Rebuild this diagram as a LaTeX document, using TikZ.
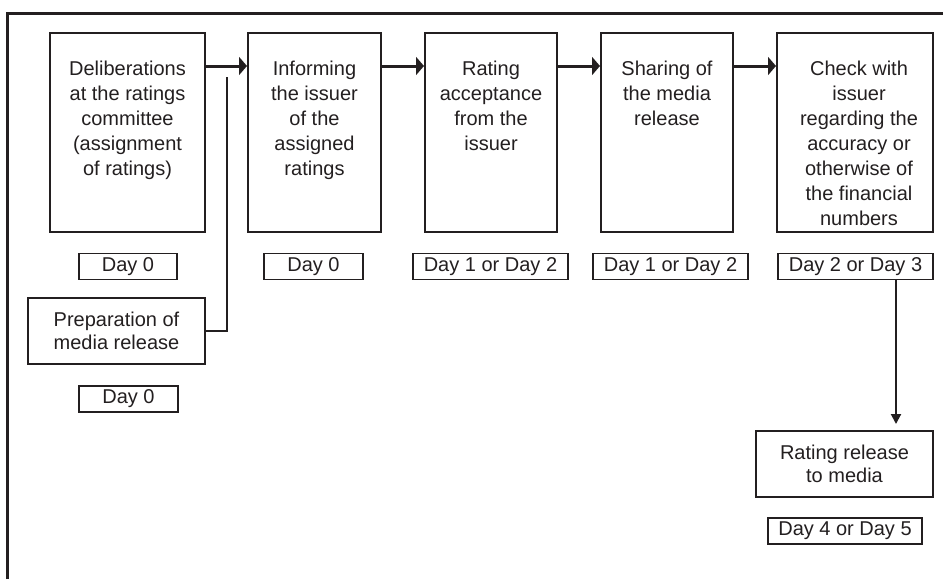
\documentclass[tikz,border=0pt]{standalone}
\usepackage{fontspec}
\setmainfont{Liberation Sans}
\usetikzlibrary{arrows.meta}

\definecolor{ink}{HTML}{231F20}

\begin{document}
\begin{tikzpicture}[x=1pt, y=-1pt,
  every node/.style={font=\fontsize{20}{25}\selectfont, text=ink},
  stepbox/.style={draw=ink, line width=2pt, minimum height=199pt, inner sep=0pt},
  steptext/.style={anchor=north, align=center, inner sep=0pt},
  infobox/.style={draw=ink, line width=2pt, minimum height=66pt, inner sep=0pt, align=center,
    font=\fontsize{20}{23}\selectfont},
  daybox/.style={draw=ink, line width=1.2pt, minimum height=26pt, inner sep=0pt},
  flowarrow/.style={draw=ink, line width=3pt, -{Triangle[length=8pt, width=18pt]}},
  downarrow/.style={draw=ink, line width=2pt, -{Triangle[length=10pt, width=10pt]}}]

\useasboundingbox (0,0) rectangle (943,579);

\draw[ink, line width=3pt] (7,579) -- (7,13) -- (943,13);

\node[stepbox, minimum width=155pt] (s1) at (127.5,132.5) {};
\node[stepbox, minimum width=133pt] (s2) at (314.5,132.5) {};
\node[stepbox, minimum width=132pt] (s3) at (491,132.5) {};
\node[stepbox, minimum width=132pt] (s4) at (667,132.5) {};
\node[stepbox, minimum width=156pt] (s5) at (855,132.5) {};

\node[steptext] (t1) at ([yshift=-29pt]s1.north) {Deliberations\\at the ratings\\committee\\(assignment\\of ratings)};
\node[steptext] (t2) at ([yshift=-29pt]s2.north) {Informing\\the issuer\\of the\\assigned\\ratings};
\node[steptext] (t3) at ([yshift=-29pt]s3.north) {Rating\\acceptance\\from the\\issuer};
\node[steptext] (t4) at ([yshift=-29pt]s4.north) {Sharing of\\the media\\release};
\node[steptext] (t5) at ([xshift=4pt, yshift=-29pt]s5.north) {Check with\\issuer\\regarding the\\accuracy or\\otherwise of\\the financial\\numbers};

\node[daybox, minimum width=98pt] (d1) at (128,266.5) {Day 0};
\node[daybox, minimum width=99pt] (d2) at (313.5,266.5) {Day 0};
\node[daybox, minimum width=155pt] (d3) at (490.5,266.5) {Day 1 or Day 2};
\node[daybox, minimum width=155pt] (d4) at (670.5,266.5) {Day 1 or Day 2};
\node[daybox, minimum width=155pt] (d5) at (855.5,266.5) {Day 2 or Day 3};

\node[infobox, minimum width=177pt] (prep) at (116.5,331) {Preparation of\\media release};
\node[daybox, minimum width=99pt] (d6) at (128.5,399) {Day 0};

\node[infobox, minimum width=177pt] (rel) at (844.5,464) {Rating release\\to media};
\node[daybox, minimum width=154pt] (d7) at (845,531) {Day 4 or Day 5};

\draw[flowarrow] ([yshift=-34pt]s1.north east) -- ([yshift=-34pt]s2.north west);
\draw[flowarrow] ([yshift=-34pt]s2.north east) -- ([yshift=-34pt]s3.north west);
\draw[flowarrow] ([yshift=-34pt]s3.north east) -- ([yshift=-34pt]s4.north west);
\draw[flowarrow] ([yshift=-34pt]s4.north east) -- ([yshift=-34pt]s5.north west);

\coordinate (jtop) at (227,77);
\draw[ink, line width=2pt] (prep.east) -| (jtop);

\draw[downarrow, shorten >=6pt] ([xshift=40.5pt]d5.south) -- ([xshift=40.5pt]d5.south |- rel.north);

\end{tikzpicture}
\end{document}
